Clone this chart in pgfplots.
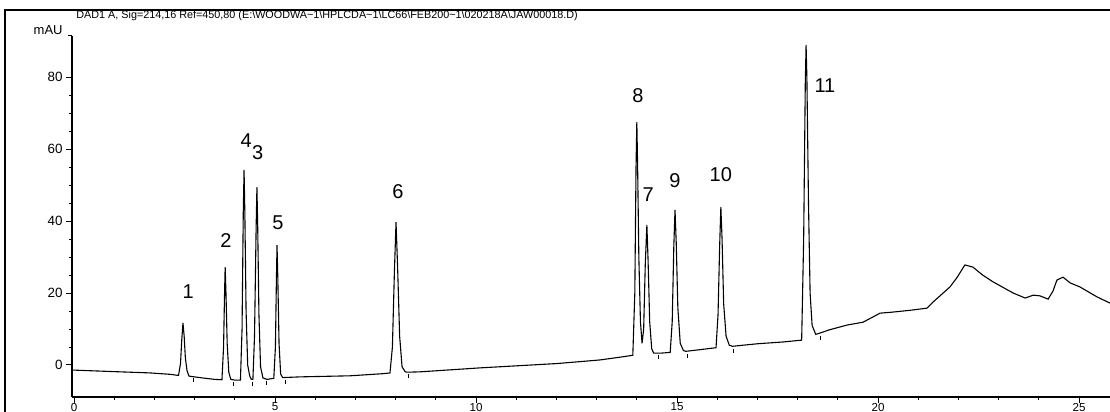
\documentclass[border=0pt]{standalone}
\usepackage{pgfplots}
\pgfplotsset{compat=1.18}
\usepackage{fontspec}
\setmainfont{Liberation Sans}
\begin{document}
\begin{tikzpicture}
\begin{axis}[
  at={(0,0)}, anchor=south west,
  scale only axis, width=519pt, height=180.5pt,
  xmin=-0.05, xmax=25.77, ymin=-8.89, ymax=91.4,
  axis x line*=bottom, axis y line*=left,
  axis line style={line width=0.6pt},
  tick align=outside,
  major tick length=3pt, minor tick length=1.4pt,
  tick style={line width=0.5pt, black},
  xtick={0,5,10,15,20,25}, minor x tick num=4,
  ytick={0,20,40,60,80}, minor y tick num=3,
  /pgf/number format/assume math mode=true,
  yticklabel style={font=\fontsize{6.7}{7}\selectfont, inner sep=0pt, xshift=-1.5pt},
  xticklabel style={font=\fontsize{5.8}{6}\selectfont, inner sep=0pt, yshift=0.2pt},
  clip=false,
]
\addplot[black, line width=0.55pt] coordinates {
(-0.05,-1.4) (0.90,-1.8) (1.89,-2.2) (2.40,-2.6)
(2.60,-2.9) (2.65,0.5) (2.68,7.0) (2.71,11.7) (2.74,8.0) (2.77,2.0) (2.81,-1.5) (2.86,-3.1)
(3.20,-3.6) (3.50,-4.0)
(3.68,-4.1) (3.72,5.0) (3.745,20.0) (3.76,27.2) (3.78,20.0) (3.81,6.0) (3.85,-2.0) (3.90,-4.0)
(4.00,-4.2)
(4.14,-4.2) (4.18,10) (4.21,42) (4.23,54.2) (4.25,42) (4.28,15) (4.32,0) (4.37,-3.0) (4.41,-4.0)
(4.45,-4.0) (4.49,8) (4.53,38) (4.55,49.4) (4.57,38) (4.60,14) (4.64,-0.5) (4.70,-3.6) (4.80,-4.0)
(4.97,-3.7) (5.01,5) (5.035,24) (5.05,33.3) (5.07,24) (5.10,6) (5.14,-2.5) (5.19,-3.5)
(5.62,-3.3) (6.87,-3.0) (7.70,-2.4)
(7.86,-2.2) (7.92,5) (7.97,26) (8.01,39.7) (8.05,27) (8.10,8) (8.16,-0.5) (8.24,-1.9) (8.30,-2.0)
(8.61,-1.9) (10.10,-0.8) (12.01,0.4) (13.08,1.4) (13.60,2.2)
(13.90,2.7) (13.95,20) (13.98,55) (14.00,67.5) (14.02,55) (14.05,30) (14.09,12) (14.13,6.0)
(14.17,10) (14.21,28) (14.25,38.9) (14.28,29) (14.32,12) (14.37,4.5) (14.42,3.3)
(14.60,3.3)
(14.83,3.5) (14.88,12) (14.92,33) (14.95,43.1) (14.98,34) (15.02,16) (15.08,6) (15.16,4.0) (15.22,3.8)
(15.60,4.3)
(15.97,4.8) (16.02,14) (16.06,33) (16.09,43.9) (16.12,35) (16.16,17) (16.22,8) (16.30,5.5) (16.38,5.2)
(17.00,5.9) (17.64,6.4) (18.00,6.8)
(18.10,6.9) (18.15,35) (18.19,78) (18.21,88.9) (18.23,80) (18.27,45) (18.31,20) (18.36,11) (18.45,8.5) (18.56,8.9)
(18.80,9.8) (19.23,11.1) (19.63,11.9) (20.05,14.4) (20.37,14.7) (20.80,15.2) (21.22,15.8) (21.37,17.5)
(21.79,21.7) (21.97,24.4) (22.16,27.8) (22.36,27.2) (22.60,25.0) (22.86,23.1) (23.36,20.0) (23.66,18.6)
(23.86,19.4) (24.03,19.2) (24.23,18.3) (24.35,20.5) (24.45,23.6) (24.60,24.4) (24.78,22.8) (25.02,21.7)
(25.45,18.9) (25.77,17.2)
};
\addplot[only marks, mark=|, mark size=1pt, black, mark options={line width=0.4pt}] coordinates {
(2.96,-4.3) (3.96,-5.3) (4.43,-5.2) (4.78,-5.0) (5.27,-4.6) (8.31,-3.0) (14.53,2.2) (15.25,2.6) (16.39,4.0) (18.56,7.6)
};
\pgfplotsset{every node/.style={font=\fontsize{7.5}{8}\selectfont}}
\node at (axis cs:2.84,20.3) {1};
\node at (axis cs:3.78,34.7) {2};
\node at (axis cs:4.28,62.2) {4};
\node at (axis cs:4.57,58.9) {3};
\node at (axis cs:5.07,39.4) {5};
\node at (axis cs:8.06,48.1) {6};
\node at (axis cs:14.03,74.7) {8};
\node at (axis cs:14.28,47.2) {7};
\node at (axis cs:14.95,51.1) {9};
\node at (axis cs:16.09,52.8) {10};
\node at (axis cs:18.68,77.5) {11};
\end{axis}
% outer frame and header
\draw[line width=0.8pt] (-33.5pt,-8pt) -- (-33.5pt,193.5pt) -- (520pt,193.5pt);
\draw[line width=0.5pt] (0pt,180.5pt) -- (-2pt,180.5pt);
\node[anchor=base west, inner sep=0pt, font=\fontsize{5.4}{6}\selectfont] at (2pt,189pt)
  {DAD1 A, Sig=214,16 Ref=450,80 (E:\textbackslash WOODWA\textasciitilde 1\textbackslash HPLCDA\textasciitilde 1\textbackslash LC66\textbackslash FEB200\textasciitilde 1\textbackslash 020218A\textbackslash JAW00018.D)};
\node[anchor=east, inner sep=0pt, font=\fontsize{6.5}{7}\selectfont] at (-4.5pt,183.5pt) {mAU};
\pgfresetboundingbox
\path[use as bounding box] (-36pt,-7.5pt) rectangle (519pt,198.5pt);
\end{tikzpicture}
\end{document}
